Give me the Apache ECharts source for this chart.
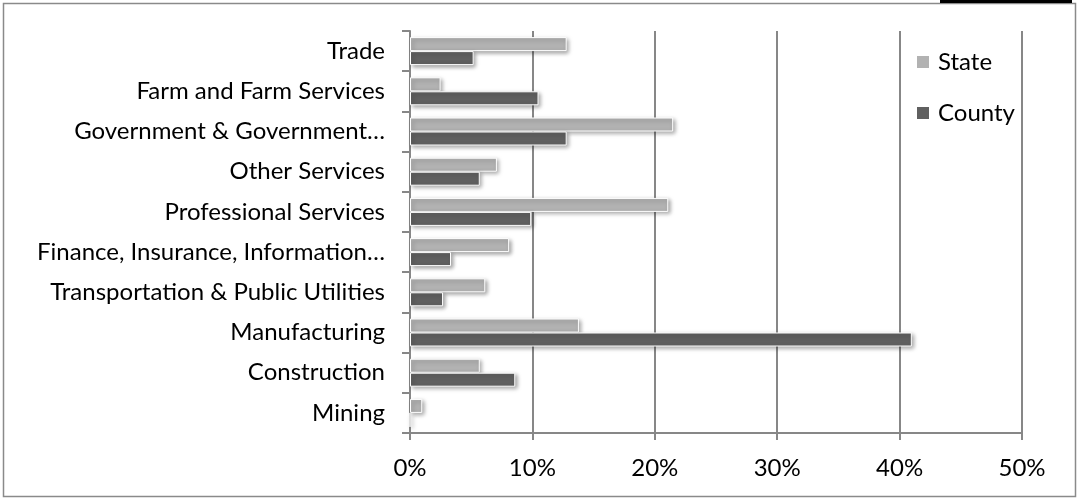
<!DOCTYPE html>
<html><head><meta charset="utf-8">
<script src="https://cdn.jsdelivr.net/npm/echarts@6/dist/echarts.min.js"></script>
<style>html,body{margin:0;padding:0;background:#fff}#c{width:1078px;height:499px}</style>
</head><body><div id="c"></div>
<script>
const categories = ['Mining','Construction','Manufacturing','Transportation & Public Utilities','Finance, Insurance, Information…','Professional Services','Other Services','Government & Government…','Farm and Farm Services','Trade'];
const stateValues  = [1.0, 5.7, 13.8, 6.15, 8.1, 21.1, 7.1, 21.5, 2.5, 12.8];
const countyValues = [0,   8.6, 41.0, 2.7,  3.35, 9.9, 5.7, 12.8, 10.5, 5.2];
const xTicks = [0,10,20,30,40,50];
const FONT = 'Lato';
const FS = 24;
const chart = echarts.init(document.getElementById('c'));
const shadow = {borderColor:'#fff',borderWidth:1,shadowBlur:4,shadowColor:'rgba(0,0,0,0.35)',shadowOffsetX:2,shadowOffsetY:2};
chart.setOption({
  animation:false,
  textStyle:{fontFamily:FONT},
  graphic:[
    {type:'rect',shape:{x:3.5,y:3.5,width:1072,height:493},style:{fill:'none',stroke:'#8a8a8a',lineWidth:1.5},z:-1},
    {type:'rect',shape:{x:940,y:0,width:132,height:3},style:{fill:'#000'}}
  ],
  grid:{left:410,right:56,top:31,bottom:66},
  legend:{orient:'vertical',left:915,top:50,padding:0,itemWidth:14,itemHeight:14,itemGap:27,
    icon:'rect',data:['State','County'],
    textStyle:{fontSize:FS,color:'#000',fontFamily:FONT,lineHeight:24,padding:[0,0,0,3]}},
  xAxis:{type:'value',min:xTicks[0],max:xTicks[xTicks.length-1],interval:10,
    axisLine:{show:true,lineStyle:{color:'#878787',width:2}},
    axisTick:{show:true,length:7,lineStyle:{color:'#878787',width:2}},
    splitLine:{show:true,lineStyle:{color:'#878787',width:2}},
    axisLabel:{formatter:'{value}%',fontSize:FS,color:'#000',margin:23,fontFamily:FONT}},
  yAxis:{type:'category',data:categories,
    axisLine:{show:true,lineStyle:{color:'#878787',width:2}},
    axisTick:{show:true,length:8,lineStyle:{color:'#878787',width:2}},
    axisLabel:{fontSize:FS,color:'#000',margin:25,fontFamily:FONT}},
  series:[
    {name:'State',type:'bar',data:stateValues,barWidth:14,barGap:'0%',itemStyle:Object.assign({color:'#b2b2b2'},shadow)},
    {name:'County',type:'bar',data:countyValues,barWidth:14,barGap:'0%',itemStyle:Object.assign({color:'#606060'},shadow)}
  ]
});
</script></body></html>
